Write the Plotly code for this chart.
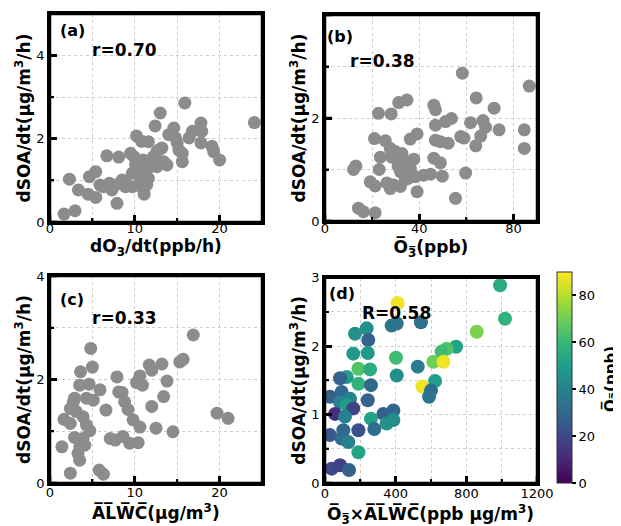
import plotly.graph_objects as go

# ---------------- data ----------------
# (a) dO3/dt vs dSOA/dt
a_x = [1.66, 2.96, 2.29, 3.35, 4.5, 4.65, 5.4, 5.4, 5.9, 6.7, 7.0, 7.3, 7.9, 8.1, 8.5, 9.1,
       9.7, 9.9, 10.2, 10.3, 10.7, 10.8, 11.0, 11.1, 11.4, 11.6, 11.8, 12.2, 12.4, 12.8, 13.0,
       13.2, 13.8, 14.0, 14.6, 15.0, 15.2, 15.6, 15.9, 16.4, 16.8, 17.8, 17.8, 17.9, 19.1, 19.3,
       20.0, 24.1, 10.1, 10.5, 11.2, 11.6, 10.8, 9.7, 8.9, 6.3, 7.7, 12.6, 13.4, 12.0, 9.5,
       15.6, 14.8, 12.6]
a_y = [0.19, 0.27, 1.03, 0.77, 0.67, 1.09, 1.21, 0.59, 0.89, 1.59, 0.93, 0.77, 0.45, 1.56, 1.01, 0.89,
       1.17, 1.57, 2.07, 1.25, 1.01, 1.94, 1.49, 0.67, 0.89, 1.93, 1.33, 1.57, 2.31, 1.73, 2.62,
       1.78, 1.37, 2.10, 2.26, 1.90, 1.73, 1.45, 2.86, 2.02, 2.18, 1.90, 2.38, 2.18, 1.82, 1.69,
       1.49, 2.39, 1.37, 1.17, 1.21, 1.05, 0.85, 0.85, 0.85, 0.85, 0.89, 1.33, 1.45, 1.49, 1.65,
       1.65, 2.02, 1.69]

# (b) mean O3 vs dSOA/dt
b_x = [58.3, 86.7, 34.8, 31.3, 64.2, 46.2, 46.9, 71.8, 22.7, 28.1, 53.7, 51.2, 46.9, 61.8, 67.1,
       68.2, 73.9, 84.6, 39.1, 36.2, 21.0, 25.6, 46.9, 49.0, 52.3, 57.6, 59.0, 66.1, 64.0, 84.6,
       27.7, 29.9, 32.7, 23.5, 28.4, 37.7, 46.2, 49.0, 33.4, 31.0, 13.1, 12.1, 23.0, 36.2, 32.0,
       41.9, 44.8, 49.8, 59.7, 38.4, 35.5, 19.2, 21.3, 26.3, 27.7, 29.1, 32.0, 34.1, 39.1, 55.4,
       14.2, 16.3, 21.3]
b_y = [2.87, 2.62, 2.35, 2.30, 2.39, 2.25, 2.16, 2.19, 2.09, 2.08, 1.99, 1.93, 1.86, 1.91, 1.95,
       1.82, 1.77, 1.77, 1.69, 1.59, 1.60, 1.56, 1.57, 1.54, 1.51, 1.64, 1.61, 1.65, 1.46, 1.41,
       1.41, 1.35, 1.31, 1.24, 1.24, 1.20, 1.22, 1.13, 1.18, 1.07, 1.07, 1.00, 1.00, 1.02, 0.96,
       0.89, 0.91, 0.87, 0.93, 0.86, 0.83, 0.76, 0.68, 0.74, 0.63, 0.70, 0.67, 0.81, 0.57, 0.44,
       0.25, 0.18, 0.16]

# (c) mean ALWC vs dSOA/dt
c_x = [16.9, 4.8, 15.7, 15.3, 13.2, 11.7, 12.0, 5.0, 3.6, 10.6, 7.9, 10.2, 10.9, 13.8, 3.5, 4.6,
       5.9, 8.1, 8.5, 13.4, 2.9, 2.75, 4.3, 5.1, 8.8, 9.2, 12.0, 6.6, 2.4, 3.1, 3.9, 1.65, 2.4,
       4.3, 9.8, 10.6, 19.7, 21.0, 12.5, 14.5, 4.7, 2.9, 3.9, 7.1, 7.7, 8.6, 9.4, 10.4, 1.4, 3.5,
       4.1, 3.3, 3.5, 5.8, 6.3, 2.4]
c_y = [2.86, 2.60, 2.39, 2.34, 2.30, 2.28, 2.18, 2.24, 2.15, 2.07, 2.05, 1.94, 1.89, 1.97, 1.89, 1.91,
       1.80, 1.76, 1.75, 1.67, 1.64, 1.57, 1.64, 1.60, 1.57, 1.42, 1.48, 1.41, 1.44, 1.38, 1.28, 1.23, 1.15,
       1.12, 1.22, 1.08, 1.35, 1.25, 1.06, 0.99, 1.01, 0.88, 0.86, 0.86, 0.83, 0.90, 0.77, 0.78, 0.70, 0.70,
       0.73, 0.57, 0.44, 0.25, 0.17, 0.19]

# (d) mean O3 x mean ALWC vs dSOA/dt, coloured by mean O3
d_x = [991, 1019, 859, 411, 377, 406, 543, 170, 236, 245, 160, 242, 742, 689, 660, 613, 670, 402,
       525, 406, 189, 255, 123, 85, 189, 260, 623, 551, 600, 589, 28, 94, 142, 85, 123, 242, 57,
       160, 113, 330, 387, 387, 260, 349, 279, 189, 28, 104, 94, 132, 189, 38, 85, 136]
d_y = [2.89, 2.40, 2.21, 2.63, 2.30, 2.33, 2.35, 2.18, 2.26, 2.09, 1.89, 1.90, 1.99, 1.96, 1.92, 1.77,
       1.77, 1.83, 1.70, 1.57, 1.67, 1.66, 1.55, 1.53, 1.45, 1.43, 1.49, 1.41, 1.35, 1.26, 1.26, 1.33,
       1.23, 1.18, 1.14, 1.21, 1.01, 1.09, 0.97, 1.01, 1.06, 0.92, 0.94, 0.87, 0.79, 0.77, 0.70, 0.77,
       0.65, 0.60, 0.45, 0.21, 0.26, 0.19]
d_o3 = [55, 58, 72, 88, 35, 35, 33, 45, 45, 28, 48, 48, 52, 65, 62, 70, 88, 62, 38, 45, 65, 55, 50,
        28, 58, 30, 50, 88, 32, 35, 28, 30, 40, 40, 50, 28, 12, 18, 40, 28, 30, 45, 52, 45, 32, 22,
        25, 30, 32, 40, 52, 20, 18, 28]

cbar_ticks = [0, 20, 40, 60, 80]

# tick values (major, minor) for each axis
ticks_x_alwc_do3 = ([0, 10, 20], [5, 15])
ticks_x_o3 = ([0, 40, 80], [20, 60])
ticks_x_prod = ([0, 400, 800, 1200], [200, 600, 1000])
ticks_y_a = ([0, 2, 4], [1, 3])
ticks_y_bc = ([0, 2, 4], [1, 3])
ticks_y_d = ([0, 1, 2, 3], [0.5, 1.5, 2.5])

# ---------------- figure ----------------
# the page body has an 8px margin, so the figure is drawn 8px in from the window corner
OFF = 8
W, H = 621 - OFF, 526 - OFF
FONT = "DejaVu Sans"
GRAY = "#8c8c8c"


def px(x):
    return (x - OFF) / W


def py(y):
    return 1 - (y - OFF) / H


def ol(s):
    # overline each character with a combining overline
    return "".join(ch + "\u0305" for ch in s)


O3 = ol("O") + "<sub>" + ol("3") + "</sub>"
ALWC = ol("ALWC")
YT = "<b>dSOA/dt(μg/m<sup>3</sup>/h)</b>"

fig = go.Figure()
fig.add_trace(go.Scatter(x=a_x, y=a_y, mode="markers", xaxis="x", yaxis="y",
                         marker=dict(size=13, color=GRAY), showlegend=False))
fig.add_trace(go.Scatter(x=b_x, y=b_y, mode="markers", xaxis="x2", yaxis="y2",
                         marker=dict(size=13, color=GRAY), showlegend=False))
fig.add_trace(go.Scatter(x=c_x, y=c_y, mode="markers", xaxis="x3", yaxis="y3",
                         marker=dict(size=13, color=GRAY), showlegend=False))
fig.add_trace(go.Scatter(
    x=d_x, y=d_y, mode="markers", xaxis="x4", yaxis="y4", showlegend=False,
    marker=dict(size=14, color=d_o3, colorscale="Viridis", cmin=0, cmax=90,
                colorbar=dict(
                    x=px(557), xanchor="left", xpad=0, ypad=0,
                    y=py(483), yanchor="bottom", len=211 / H, lenmode="fraction",
                    thickness=15, outlinewidth=1, outlinecolor="#333",
                    tickvals=cbar_ticks, ticks="outside", ticklen=4, tickwidth=1.5,
                    tickcolor="black", tickfont=dict(family=FONT, size=13, color="black"),
                ))))


def axis(domain, rng, ticks, anchor, title=None, standoff=2, lab_off=None):
    major, minor = ticks
    d = dict(
        domain=domain, range=rng, anchor=anchor, dtick=major[1] - major[0], tick0=0,
        showline=True, linewidth=2.5, linecolor="black", mirror=True,
        ticks="inside", ticklen=7, tickwidth=2.5, tickcolor="black",
        showgrid=True, gridcolor="#cccccc", gridwidth=1, griddash="dot",
        zeroline=False,
        minor=dict(dtick=minor[1] - minor[0], tick0=minor[0], ticks="inside", ticklen=4,
                   tickwidth=2, tickcolor="black", showgrid=True, gridcolor="#cccccc",
                   gridwidth=1, griddash="dot"),
        tickfont=dict(family=FONT, size=13, color="black"),
    )
    if title:
        d["title"] = dict(text=title, standoff=standoff,
                          font=dict(family=FONT, size=17, color="black"))
    if lab_off is not None:
        d["ticklabelstandoff"] = lab_off
    return d


xa = [px(50), px(262)]
xb = [px(325), px(537)]
ya = [py(222), py(14)]
yb = [py(221), py(15)]
yc = [py(483), py(276)]
yd = [py(483), py(277.7)]

fig.update_layout(
    width=W, height=H,
    margin=dict(l=0, r=0, t=0, b=0, autoexpand=False),
    paper_bgcolor="white", plot_bgcolor="white",
    font=dict(family=FONT, size=13, color="black"),
    xaxis=axis(xa, [0, 25], ticks_x_alwc_do3, "y", "<b>dO<sub>3</sub>/dt(ppb/h)</b>", 0, -7),
    yaxis=axis(ya, [0, 5], ticks_y_a, "x", YT, 2),
    xaxis2=axis(xb, [0, 90], ticks_x_o3, "y2", "<b>" + O3 + "(ppb)</b>", 2, -6),
    yaxis2=axis(yb, [0, 4], ticks_y_bc, "x2", YT, 2),
    xaxis3=axis(xa, [0, 25], ticks_x_alwc_do3, "y3", None, 2, -4),
    yaxis3=axis(yc, [0, 4], ticks_y_bc, "x3", YT, 2),
    xaxis4=axis(xb, [0, 1200], ticks_x_prod, "y4", None, 2, -3),
    yaxis4=axis(yd, [0, 3], ticks_y_d, "x4", YT, 2),
)

# frame and inward ticks drawn as shapes too, so the box always shows
panels = [("", xa, ya, ticks_x_alwc_do3, ticks_y_a),
          ("2", xb, yb, ticks_x_o3, ticks_y_bc),
          ("3", xa, yc, ticks_x_alwc_do3, ticks_y_bc),
          ("4", xb, yd, ticks_x_prod, ticks_y_d)]
for sfx, xd, yd_, tx, ty in panels:
    xr, yr = "x" + sfx, "y" + sfx
    wpx = (xd[1] - xd[0]) * W
    hpx = (yd_[1] - yd_[0]) * H
    for vals, ln, lw in ((tx[0], 7, 2.5), (tx[1], 4, 2)):
        for v in vals:
            fig.add_shape(type="line", xref=xr, yref=yr + " domain", x0=v, x1=v,
                          y0=0, y1=ln / hpx, line=dict(color="black", width=lw), layer="above")
    for vals, ln, lw in ((ty[0], 7, 2.5), (ty[1], 4, 2)):
        for v in vals:
            fig.add_shape(type="line", xref=xr + " domain", yref=yr, x0=0, x1=ln / wpx,
                          y0=v, y1=v, line=dict(color="black", width=lw), layer="above")
    fig.add_shape(type="rect", xref=xr + " domain", yref=yr + " domain", x0=0, x1=1,
                  y0=0, y1=1, line=dict(color="black", width=2.5), layer="above")

ann = [("(a)", 72, 30, 16), ("r=0.70", 125, 50, 17),
       ("(b)", 340, 36, 16), ("r=0.38", 382, 61, 17),
       ("(c)", 72, 299, 16), ("r=0.33", 125, 318, 17),
       ("(d)", 342, 293, 16), ("R=0.58", 396, 313, 17)]
for t, x, y, s in ann:
    fig.add_annotation(text="<b>%s</b>" % t, x=px(x), y=py(y), xref="paper", yref="paper",
                       showarrow=False, xanchor="center", yanchor="middle",
                       font=dict(family=FONT, size=s, color="black"))

# x titles of (c) and (d), and the colour-bar title
extra = [("<b>" + ALWC + "(μg/m<sup>3</sup>)</b>", 156, 512, 17, 0),
         ("<b>" + O3 + "×" + ALWC + "(ppb μg/m<sup>3</sup>)</b>", 430, 514, 17, 0),
         ("<b>" + O3 + "(ppb)</b>", 610, 379, 15, -90)]
for t, x, y, s, ang in extra:
    fig.add_annotation(text=t, x=px(x), y=py(y), xref="paper", yref="paper",
                       showarrow=False, xanchor="center", yanchor="middle", textangle=ang,
                       font=dict(family=FONT, size=s, color="black"))

fig.write_html("out.html")
